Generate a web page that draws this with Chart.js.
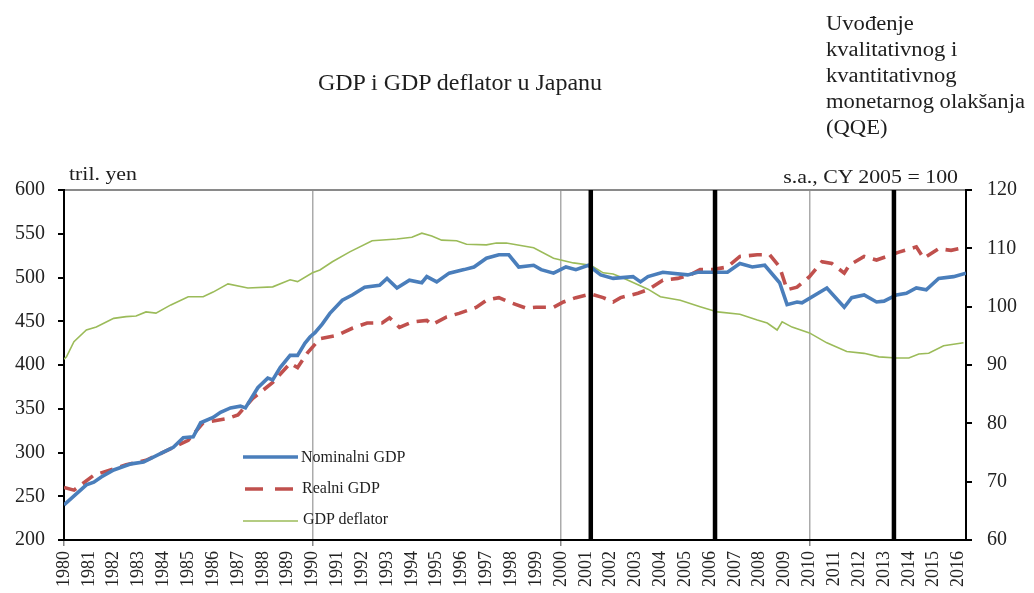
<!DOCTYPE html>
<html><head><meta charset="utf-8">
<script src="https://cdn.jsdelivr.net/npm/chart.js@4.4.0/dist/chart.umd.min.js"></script>
<style>
html,body{margin:0;padding:0;background:#fff;width:1034px;height:593px;overflow:hidden;}
#wrap{position:relative;width:1034px;height:593px;}
#c{position:absolute;left:0;top:0;}
.t{position:absolute;font-family:'Liberation Serif','Times New Roman',serif;color:#1e1e1e;white-space:nowrap;line-height:1;}
</style></head><body>
<div id="wrap">
<canvas id="c" width="1034" height="593" style="width:1034px;height:593px"></canvas>
<div class="t" style="left:260px;top:70px;width:400px;text-align:center;font-size:24px;">GDP i GDP deflator u Japanu</div>
<div class="t" style="left:826px;top:10px;font-size:20px;line-height:26px;transform:scaleX(1.13);transform-origin:left top;">Uvođenje<br>kvalitativnog i<br>kvantitativnog<br>monetarnog olakšanja<br>(QQE)</div>
<div class="t" style="left:69px;top:164px;font-size:19px;transform:scaleX(1.15);transform-origin:left top;">tril. yen</div>
<div class="t" style="right:76px;top:167px;font-size:19px;transform:scaleX(1.15);transform-origin:right top;">s.a., CY 2005 = 100</div>
<div id="legend"></div>
</div>
<script>
// ---- data (year, value) ----
const nominalYears = [1980.0,1980.9,1981.2,1981.5,1982.0,1982.7,1983.2,1983.9,1984.4,1984.8,1985.2,1985.5,1986.0,1986.3,1986.7,1987.1,1987.3,1987.8,1988.2,1988.4,1988.7,1989.1,1989.4,1989.7,1989.9,1990.1,1990.4,1990.7,1991.2,1991.6,1992.1,1992.7,1993.0,1993.4,1993.9,1994.4,1994.6,1995.0,1995.5,1996.1,1996.5,1997.0,1997.5,1997.9,1998.3,1998.9,1999.2,1999.7,2000.2,2000.6,2001.1,2001.6,2002.1,2002.9,2003.2,2003.5,2004.1,2005.1,2005.5,2006.7,2007.2,2007.7,2008.2,2008.8,2009.1,2009.5,2009.7,2010.7,2011.4,2011.7,2012.2,2012.7,2013.0,2013.5,2013.9,2014.3,2014.7,2015.2,2015.8,2016.3];
const nominalGDP = [240,263,266,272,280,287,289,299,306,317,318,334,340,346,351,353,351,374,385,383,397,411,411,425,432,437,447,459,474,480,489,491,499,488,497,494,501,495,505,509,512,522,526,526,512,514,509,505,512,509,514,503,499,501,495,501,506,503,506,506,516,512,514,494,469,472,471,488,466,477,480,472,473,480,482,488,486,499,501,505];

const realYears = [1980.0,1980.4,1981.2,1982.5,1983.3,1983.9,1985.0,1985.6,1986.6,1987.0,1987.6,1988.4,1989.1,1989.4,1989.8,1990.3,1991.0,1991.6,1992.2,1992.8,1993.1,1993.5,1994.0,1994.6,1994.8,1995.4,1995.9,1996.6,1997.0,1997.5,1997.9,1998.6,1999.0,1999.7,2000.1,2000.6,2001.2,2001.7,2002.1,2002.4,2003.1,2003.5,2004.1,2004.7,2005.2,2005.6,2006.1,2006.7,2007.2,2007.9,2008.4,2008.8,2009.1,2009.5,2010.0,2010.5,2010.9,2011.4,2011.6,2012.2,2012.7,2013.1,2013.6,2014.3,2014.6,2015.2,2015.7,2016.2];
const realGDP = [260,257,274,286,291,299,314,334,339,343,362,380,402,397,414,430,434,442,448,448,454,443,449,451,446,455,459,466,474,477,472,465,466,466,472,477,481,477,472,477,482,486,497,499,503,509,509,512,524,526,526,512,486,489,501,518,516,505,514,524,520,524,529,535,522,533,531,534];

const deflatorYears = [1980.0,1980.1,1980.4,1980.9,1981.3,1982.0,1982.5,1982.9,1983.3,1983.7,1984.3,1985.0,1985.6,1986.0,1986.6,1987.4,1988.4,1989.1,1989.4,1990.0,1990.3,1990.8,1991.5,1992.4,1993.4,1994.0,1994.4,1994.8,1995.2,1995.8,1996.2,1997.0,1997.4,1997.8,1998.9,1999.7,2000.5,2001.2,2001.7,2002.1,2002.5,2003.5,2004.0,2004.8,2005.6,2006.3,2007.2,2007.9,2008.3,2008.7,2008.9,2009.3,2010.0,2010.7,2011.5,2012.2,2012.8,2013.5,2014.0,2014.4,2014.8,2015.4,2016.2];
const gdpDeflator = [91.0,91.4,94.0,96.0,96.5,98.0,98.3,98.4,99.1,98.9,100.3,101.7,101.7,102.5,103.9,103.2,103.4,104.6,104.3,105.8,106.3,107.7,109.4,111.3,111.6,111.9,112.6,112.1,111.4,111.3,110.7,110.6,110.9,110.9,110.1,108.3,107.5,107.1,105.8,105.6,104.9,103.0,101.7,101.1,100.0,99.1,98.7,97.7,97.2,96.0,97.4,96.5,95.5,93.8,92.3,92.0,91.4,91.2,91.2,91.9,92.0,93.3,93.8];

// event markers (QE introductions)
const eventYears = [2001.2, 2006.2, 2013.4];

// axes
const xRange = [1980, 2016.3];
const leftRange = [200, 600];
const rightRange = [60, 120];
const greyYears = [1990, 2000, 2010];
const tickYears = [1980, 1990, 2000, 2010];

const seriesNames = ['Nominalni GDP', 'Realni GDP', 'GDP deflator'];
const colors = {nominal:'#4a7ebb', real:'#c0504d', deflator:'#9bbb59'};

const pts = (xs, ys) => xs.map((x, i) => ({x: x, y: ys[i]}));
const FONT = "'Liberation Serif','Times New Roman',serif";

const eventSets = eventYears.map(yr => ({
  label: 'event', data: [{x: yr, y: leftRange[0]}, {x: yr, y: leftRange[1]}],
  yAxisID: 'y', borderColor: '#000', borderWidth: 4.5, pointRadius: 0, fill: false
}));

const datasets = eventSets.concat([
  {label: seriesNames[0], data: pts(nominalYears, nominalGDP), yAxisID: 'y',
   borderColor: colors.nominal, borderWidth: 3.6, pointRadius: 0, tension: 0},
  {label: seriesNames[1], data: pts(realYears, realGDP), yAxisID: 'y',
   borderColor: colors.real, borderWidth: 3.6, borderDash: [13, 8], pointRadius: 0, tension: 0},
  {label: seriesNames[2], data: pts(deflatorYears, gdpDeflator), yAxisID: 'y2',
   borderColor: colors.deflator, borderWidth: 1.6, pointRadius: 0, tension: 0}
]);

new Chart(document.getElementById('c'), {
  type: 'line',
  data: {datasets: datasets},
  options: {
    responsive: false, animation: false,
    layout: {padding: {top: 190, left: 0, right: 0, bottom: 0}},
    plugins: {legend: {display: false}, tooltip: {enabled: false}},
    scales: {
      x: {
        type: 'linear', min: xRange[0], max: xRange[1],
        afterFit: s => { s.height = 53; },
        border: {display: true, color: '#000', width: 2},
        grid: {
          drawOnChartArea: true, tickLength: 6, lineWidth: 1.5,
          color: c => (c.tick && greyYears.includes(c.tick.value)) ? '#ababab' : 'rgba(0,0,0,0)',
          tickColor: c => (c.tick && tickYears.includes(c.tick.value)) ? '#888' : 'rgba(0,0,0,0)'
        },
        ticks: {
          stepSize: 1, autoSkip: false, includeBounds: false, minRotation: 90, maxRotation: 90,
          padding: 5, color: '#222', font: {family: FONT, size: 18},
          callback: v => Number.isInteger(v) ? String(v) : ''
        }
      },
      y: {
        position: 'left', min: leftRange[0], max: leftRange[1],
        afterFit: s => { s.width = 64; },
        border: {display: true, color: '#000', width: 2},
        grid: {
          drawOnChartArea: true, tickLength: 6, lineWidth: 2,
          color: c => (c.tick && c.tick.value === leftRange[1]) ? '#8a8a8a' : 'rgba(0,0,0,0)',
          tickColor: '#000'
        },
        ticks: {stepSize: 50, padding: 13, color: '#222', font: {family: FONT, size: 20}}
      },
      y2: {
        position: 'right', min: rightRange[0], max: rightRange[1],
        afterFit: s => { s.width = 68; },
        border: {display: true, color: '#000', width: 2},
        grid: {drawOnChartArea: false, tickLength: 6, tickColor: '#000', lineWidth: 2},
        ticks: {stepSize: 10, padding: 15, color: '#222', font: {family: FONT, size: 20}}
      }
    }
  }
});

// HTML legend
const lg = document.getElementById('legend');
const rows = [
  {name: seriesNames[0], y: 457, top: 448.6, tx: 301, kind: 'solid', color: colors.nominal, w: 3.4},
  {name: seriesNames[1], y: 489, top: 479.6, tx: 302, kind: 'dash', color: colors.real, w: 3.6},
  {name: seriesNames[2], y: 521, top: 510.6, tx: 303, kind: 'solid', color: colors.deflator, w: 1.6}
];
rows.forEach(r => {
  const svg = document.createElementNS('http://www.w3.org/2000/svg', 'svg');
  svg.setAttribute('width', '60'); svg.setAttribute('height', '10');
  svg.style.position = 'absolute'; svg.style.left = '242px'; svg.style.top = (r.y - 5) + 'px';
  const ln = document.createElementNS('http://www.w3.org/2000/svg', 'line');
  ln.setAttribute('x1', '1'); ln.setAttribute('x2', '56'); ln.setAttribute('y1', '5'); ln.setAttribute('y2', '5');
  ln.setAttribute('stroke', r.color); ln.setAttribute('stroke-width', r.w);
  if (r.kind === 'dash') { ln.setAttribute('stroke-dasharray', '18 12'); ln.setAttribute('x1', '3'); }
  svg.appendChild(ln);
  lg.appendChild(svg);
  const t = document.createElement('div');
  t.className = 't'; t.style.left = r.tx + 'px'; t.style.top = r.top + 'px'; t.style.fontSize = '16px';
  t.textContent = r.name;
  lg.appendChild(t);
});
</script>
</body></html>
